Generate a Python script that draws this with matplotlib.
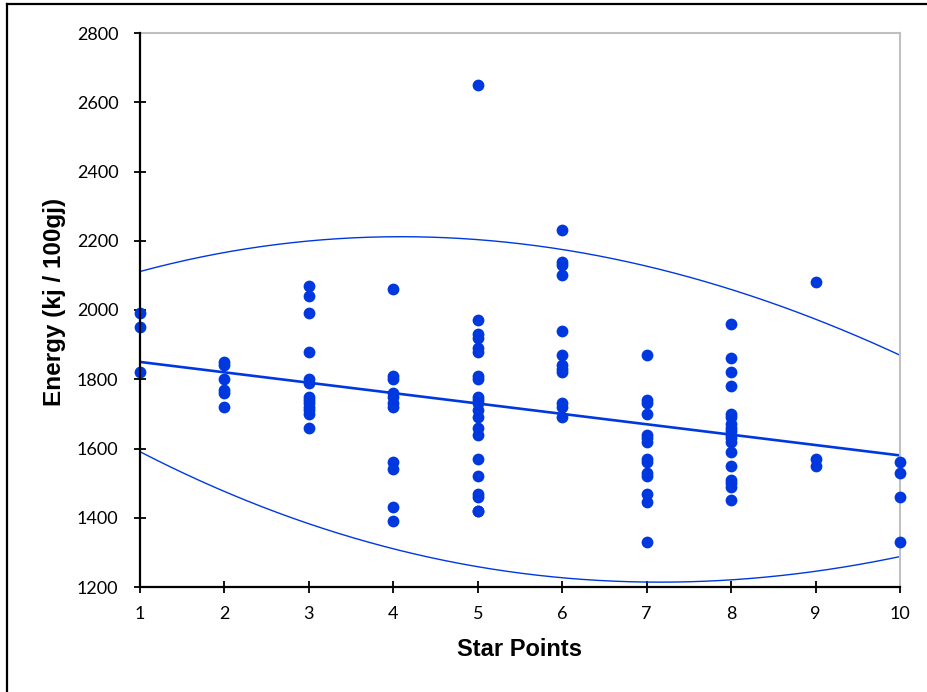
import numpy as np
import matplotlib
matplotlib.use("Agg")
import matplotlib.pyplot as plt
from matplotlib.lines import Line2D

# ---- data ----
energy_1 = [1990, 1950, 1820]
energy_2 = [1850, 1840, 1800, 1770, 1760, 1720]
energy_3 = [2070, 2040, 1990, 1880, 1800, 1790, 1750, 1740, 1730, 1720, 1710, 1700, 1660]
energy_4 = [2060, 1810, 1800, 1760, 1750, 1730, 1720, 1560, 1540, 1430, 1390]
energy_5 = [2650, 1970, 1930, 1920, 1890, 1880, 1810, 1800, 1750, 1740, 1730, 1710,
            1690, 1660, 1640, 1570, 1520, 1470, 1460, 1420, 1420]
energy_6 = [2230, 2140, 2130, 2100, 1940, 1870, 1840, 1830, 1820, 1730, 1720, 1690]
energy_7 = [1870, 1740, 1730, 1700, 1640, 1630, 1620, 1570, 1560, 1530, 1520, 1470, 1445, 1330]
energy_8 = [1960, 1860, 1820, 1780, 1700, 1690, 1670, 1660, 1650, 1640, 1630, 1620,
            1590, 1550, 1510, 1500, 1490, 1450]
energy_9 = [2080, 1570, 1550]
energy_10 = [1560, 1530, 1460, 1330]

groups = [energy_1, energy_2, energy_3, energy_4, energy_5,
          energy_6, energy_7, energy_8, energy_9, energy_10]
star_levels = [1, 2, 3, 4, 5, 6, 7, 8, 9, 10]

# trend line end values and band curves read at each star level
trend_x = [1, 10]
trend_y = [1850, 1580]
band_upper = [2105, 2175, 2202, 2211, 2199, 2170, 2125, 2060, 1986, 1862]
band_lower = [1596, 1471, 1374, 1313, 1264, 1232, 1217, 1214, 1238, 1294]

x_ticks = [1, 2, 3, 4, 5, 6, 7, 8, 9, 10]
y_ticks = [1200, 1400, 1600, 1800, 2000, 2200, 2400, 2600, 2800]

color = "#0038E0"

xs = np.concatenate([[s] * len(g) for s, g in zip(star_levels, groups)])
ys = np.concatenate(groups)

fig = plt.figure(figsize=(9.28, 6.92), dpi=100)
ax = fig.add_axes([140 / 928, 105 / 692, 760 / 928, 554 / 692])

ax.scatter(xs, ys, s=72, color=color, zorder=3, linewidths=0, clip_on=False)

# trend line
ax.plot(trend_x, trend_y, color=color, lw=1.9, zorder=2)

# band curves (smooth fit through read values)
xx = np.linspace(1, 10, 200)
cu = np.polyfit(star_levels, band_upper, 3)
cl = np.polyfit(star_levels, band_lower, 3)
ax.plot(xx, np.polyval(cu, xx), color=color, lw=1.0, zorder=2)
ax.plot(xx, np.polyval(cl, xx), color=color, lw=1.0, zorder=2)

ax.set_xlim(1, 10)
ax.set_ylim(1200, 2800)
ax.set_xticks(x_ticks)
ax.set_yticks(y_ticks)
ax.tick_params(direction="inout", length=9, width=1.3, color="black",
               labelsize=13)
for lab in ax.get_xticklabels() + ax.get_yticklabels():
    lab.set_family("Lato")
ax.tick_params(axis="x", pad=9)
ax.tick_params(axis="y", pad=11)

for side in ["left", "bottom"]:
    ax.spines[side].set_color("black")
    ax.spines[side].set_linewidth(1.6)
for side in ["top", "right"]:
    ax.spines[side].set_color("#C0C0C0")
    ax.spines[side].set_linewidth(1.5)
ax.spines["left"].set_zorder(4)
ax.spines["bottom"].set_zorder(4)

ax.set_xlabel("Star Points", fontsize=17, fontweight="bold",
              family="Liberation Sans", labelpad=12)
ax.set_ylabel("Energy (kj / 100gj)", fontsize=17.5, fontweight="bold",
              family="Liberation Sans", labelpad=5)
ax.yaxis.set_label_coords(-0.098, 0.515)

# outer chart border (left and top visible)
fig.add_artist(Line2D([7 / 928, 7 / 928], [0, 1 - 4 / 692], color="black", lw=1.6,
                      transform=fig.transFigure))
fig.add_artist(Line2D([7 / 928, 1], [1 - 4 / 692, 1 - 4 / 692], color="black", lw=1.6,
                      transform=fig.transFigure))

fig.savefig("out.png", dpi=100)
